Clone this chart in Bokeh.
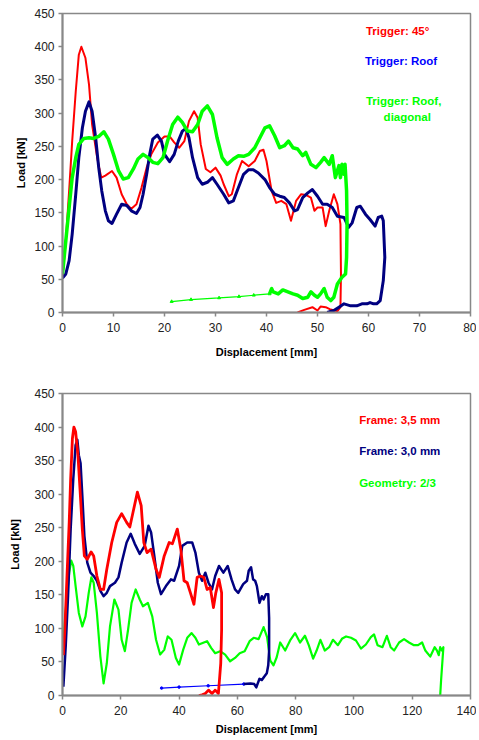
from bokeh.plotting import figure
from bokeh.layouts import column
from bokeh.models import Range1d, FixedTicker, Label
from bokeh.embed import file_html
from bokeh.resources import INLINE

# ---------------- data: top chart (trigger variants) ----------------
t_red = [[0,53],[0.65,108],[1.3,183],[1.9,258],[2.6,333],[3.2,388],[3.7,400],[4.5,383],[5.2,343],[5.8,283],
         [6.8,233],[7.6,203],[8.4,206],[9.7,213],[10.6,203],[11.6,178],[12.6,163],[13.5,156],[14.5,163],[15.5,188],
         [16.5,218],[17.4,238],[18.7,256],[20,265],[21,265],[21.9,256],[22.9,248],[23.9,258],[24.8,288],[25.8,303],
         [26.5,293],[27.1,253],[28.1,216],[29,211],[30,218],[31,206],[31.6,193],[32.6,175],[33.2,178],[34.2,208],
         [35.2,228],[36.5,220],[37.7,228],[38.7,243],[39.4,245],[40,228],[41,183],[41.9,165],[42.9,168],[43.9,163],
         [44.8,138],[45.8,168],[46.8,178],[47.7,177],[48.7,173],[49.4,153],[50,158],[51,158],[51.6,130],[52.3,153],
         [53.2,178],[53.9,163],[54.5,133],[54.6,58],[54.5,8],[53.9,2],[52.4,5],[51.6,8],[50.6,9],[50,3],[49,8],
         [47.4,4],[46.1,0]]
t_blue = [[0,52],[0.65,58],[1.3,78],[1.9,118],[2.6,178],[3.2,233],[3.9,278],[4.5,303],[5.2,317],[5.8,303],
          [6.5,263],[7.1,218],[7.7,183],[8.4,153],[9,138],[9.7,134],[10.6,148],[11.6,163],[12.6,161],[13.5,153],
          [14.5,149],[15.2,158],[15.8,178],[16.5,208],[17.1,238],[17.7,261],[18.6,267],[19.4,258],[20,238],[21,227],
          [21.9,238],[22.7,258],[23.5,273],[24.2,277],[24.8,263],[25.5,233],[26.5,203],[27.4,193],[28.4,196],[29.4,203],
          [30.3,193],[31.6,178],[32.6,165],[33.5,168],[34.5,188],[35.5,208],[36.5,215],[37.4,215],[38.4,210],[39.7,200],
          [40.6,188],[41.6,178],[42.6,175],[43.5,173],[44.5,165],[45.5,153],[46.1,155],[47.1,173],[48.1,180],[49,185],
          [50,175],[51,163],[51.9,163],[52.9,158],[53.9,145],[55.2,143],[56.1,128],[56.8,135],[57.7,158],[58.4,160],
          [59.4,148],[60.3,140],[61.3,130],[61.9,143],[62.6,145],[62.9,138],[63.2,83],[62.9,48],[62.3,18],[61.6,13],
          [61,13],[60.3,15],[59.7,13],[58.7,13],[57.7,10],[56.5,10],[55.2,13],[54.2,8],[53.2,3],[51.9,0]]
t_green = [[0,58],[0.65,108],[1.3,158],[1.9,203],[2.6,233],[3.2,253],[4.2,262],[5.2,263],[6.1,262],[7.1,265],
           [8.1,272],[9,261],[10,238],[11,213],[11.9,201],[12.9,203],[13.9,216],[14.8,231],[15.8,238],[16.8,233],
           [17.7,226],[18.7,224],[19.7,233],[20.6,258],[21.6,283],[22.6,294],[23.5,286],[24.5,273],[25.5,272],[26.5,283],
           [27.4,303],[28.4,311],[29.4,298],[30.3,263],[31.3,233],[32.3,223],[33.5,231],[34.5,236],[35.5,235],[36.5,238],
           [37.7,248],[38.7,263],[39.7,278],[40.6,281],[41.6,266],[42.6,248],[43.5,251],[44.3,258],[45.2,248],[46.1,246],
           [47.1,236],[47.7,241],[48.7,223],[49.7,218],[50.6,226],[51.3,233],[52.3,223],[52.9,236],[53.5,203],[54.2,221],
           [54.5,203],[54.8,223],[55.2,208],[55.4,223],[55.7,183],[55.8,133],[55.7,83],[55.5,58],[54.8,53],[53.9,43],
           [53.2,23],[52.6,18],[51.9,23],[51.3,36],[50.6,28],[50,23],[49.4,26],[48.7,31],[48.1,23],[47.1,21],
           [46.1,26],[45.2,28],[44.2,31],[43.2,34],[42.3,28],[41.3,31],[41,36],[40.6,28]]
t_green_tail = [[40.6,28],[37.5,26],[34.6,24],[30.7,22],[25.2,19.5],[21.4,16.5]]
t_labels = ["Trigger: 45°", "Trigger: Roof", "Trigger: Roof,", "diagonal"]

# ---------------- data: bottom chart (frame variants) ----------------
b_red = [[0.3,60],[0.8,98],[1.5,173],[2.3,258],[2.8,323],[3.4,383],[3.9,400],[4.5,393],[5.3,358],[6,308],
         [6.8,248],[7.5,208],[8.5,203],[9.8,214],[10.7,208],[11.8,178],[13,158],[14.1,158],[15.2,188],[16.9,228],
         [18.6,258],[20.3,271],[22,258],[23.1,251],[24.2,273],[25.7,303],[27,283],[27.9,228],[29,213],[30.4,218],
         [32.1,188],[33.2,176],[34.9,208],[36.6,228],[37.7,226],[39.4,248],[40.6,218],[41.7,171],[42.8,168],[43.9,153],
         [45.1,136],[46.2,176],[47.3,178],[48.5,176],[49.6,158],[50.7,161],[51.8,131],[52.6,153],[53.7,173],[54.6,153],
         [54.6,98],[54.3,48],[53.5,3],[52.4,8],[51.3,3],[50.1,8],[49,3],[47.9,1],[46.8,0]]
b_blue = [[0.3,13],[1.1,73],[1.9,148],[2.8,248],[3.7,323],[4.5,373],[5.1,381],[5.6,358],[6.2,346],[6.8,298],
          [7.5,238],[8.5,198],[9.6,183],[10.7,178],[11.8,171],[13,156],[14.1,148],[15.2,153],[16.3,163],[18,168],
          [19.2,176],[20.3,198],[22,228],[23.4,241],[24.8,226],[26.5,211],[28.2,223],[29.5,253],[30.4,243],[31.5,208],
          [32.7,168],[33.8,151],[35.5,163],[37.2,173],[38.3,171],[40,193],[41.1,223],[42.8,228],[44.5,228],[45.6,213],
          [46.8,183],[47.9,171],[49,183],[50.1,168],[51.3,158],[52.4,178],[53.7,193],[55.2,183],[56.7,193],[58,173],
          [59.2,158],[60.3,153],[62,166],[63.3,171],[63.9,186],[64.7,191],[65.4,173],[66.1,171],[66.7,163],[67.6,138],
          [68.4,148],[69,143],[69.8,151],[70.6,151],[70.9,115],[70.9,67],[70.6,45],[70.1,33],[69.2,28],[68.4,23],
          [67.6,25],[67,18],[66.5,12],[65.8,17],[64.5,18],[62.2,17]]
b_blue_tail = [[62.2,17],[50,14.5],[40,12.5],[34,11]]
b_green = [[0.2,70],[0.6,98],[1.5,148],[2.3,183],[3,201],[3.7,193],[4.5,163],[5.6,123],[6.8,103],[7.9,118],
           [9,153],[9.9,176],[10.7,168],[11.8,123],[13,58],[14.1,18],[15.2,48],[16.3,103],[17.8,143],[19.2,128],
           [20.3,83],[21.4,66],[22.5,98],[23.7,138],[25.1,158],[26.5,143],[27.6,133],[29.3,138],[30.8,118],[32.1,83],
           [33.5,61],[34.9,68],[36.1,88],[37.4,83],[38.9,56],[40,46],[41.4,68],[42.8,86],[44.3,93],[45.6,86],
           [46.8,76],[48.5,79],[49.6,81],[51,71],[52.4,63],[54.1,66],[55.8,61],[57.5,51],[59.2,56],[60.8,63],
           [62.5,66],[64.2,81],[65.6,86],[67.3,84],[69,102],[70.2,87],[71.3,52],[72.4,45],[73.5,57],[74.7,79],
           [76.4,67],[78.1,82],[79.8,93],[81.5,79],[83.2,89],[84.5,75],[86,55],[87.2,67],[88.5,83],[90,67],
           [91.5,72],[92.8,83],[94.5,75],[96,85],[97.3,88],[99,86],[100.7,82],[102.4,70],[104.1,76],[105.8,87],
           [106.9,91],[108.1,75],[109.8,72],[111.3,89],[112.6,72],[113.8,67],[115.5,79],[117.2,84],[118.9,79],[120.6,75],
           [122,75],[123.4,79],[124.5,67],[126.2,58],[127.7,72],[128.5,67],[129.1,60],[129.6,72],[130.2,67],[130.7,72],
           [129.9,22],[129.6,0]]
b_labels = ["Frame: 3,5 mm", "Frame: 3,0 mm", "Geometry: 2/3"]

y_ticks = [0, 50, 100, 150, 200, 250, 300, 350, 400, 450]
t_x_ticks = [0, 10, 20, 30, 40, 50, 60, 70, 80]
b_x_ticks = [0, 20, 40, 60, 80, 100, 120, 140]

RED, NAVY, BLUE, GREEN = "#FF0000", "#000080", "#0000FF", "#00FF00"
FONT = "Liberation Sans"


def xs(pts):
    return [p[0] for p in pts]


def ys(pts):
    return [p[1] for p in pts]


def style(p, xticks):
    p.xaxis.ticker = FixedTicker(ticks=xticks)
    p.yaxis.ticker = FixedTicker(ticks=y_ticks)
    p.xgrid.visible = False
    p.ygrid.visible = False
    p.outline_line_color = "#888888"
    p.outline_line_width = 1.5
    for ax in (p.xaxis[0], p.yaxis[0]):
        ax.axis_line_color = "#888888"
        ax.axis_line_width = 2
        ax.major_tick_line_color = "#888888"
        ax.major_tick_line_width = 1.5
        ax.major_tick_out = 4
        ax.major_tick_in = 0
        ax.minor_tick_line_color = None
        ax.major_label_text_font = FONT
        ax.major_label_text_font_size = "12px"
        ax.major_label_text_color = "#222222"
        ax.axis_label_text_font = FONT
        ax.axis_label_text_font_size = "11px"
        ax.axis_label_text_font_style = "bold"
        ax.axis_label_text_color = "#000000"
    p.xaxis.axis_label = "Displacement [mm]"
    p.yaxis.axis_label = "Load [kN]"
    p.xaxis.major_label_standoff = 6
    p.yaxis.major_label_standoff = 4


def label(p, txt, x, y, col, align):
    p.add_layout(Label(x=x, y=y, text=txt, text_color=col, text_font=FONT, text_font_style="bold",
                       text_font_size="11.5px", text_align=align, text_baseline="middle"))


# ---------------- top figure ----------------
p1 = figure(width=476, height=365, output_backend="svg", toolbar_location=None,
            x_range=Range1d(0, 80), y_range=Range1d(0, 450),
            min_border_left=62, min_border_right=3, min_border_top=13, min_border_bottom=53)
style(p1, t_x_ticks)
p1.xaxis.axis_label_standoff = 11
p1.yaxis.axis_label_standoff = 4

p1.line(xs(t_green_tail), ys(t_green_tail), line_color=GREEN, line_width=1.2)
p1.scatter(xs(t_green_tail), ys(t_green_tail), marker="triangle", size=3, color=GREEN)
p1.line(xs(t_red), ys(t_red), line_color=RED, line_width=2, line_join="round")
p1.line(xs(t_blue), ys(t_blue), line_color=NAVY, line_width=3, line_join="round")
p1.line(xs(t_green), ys(t_green), line_color=GREEN, line_width=3.5, line_join="round")

label(p1, t_labels[0], 59.5, 424, RED, "left")
label(p1, t_labels[1], 59.3, 378, BLUE, "left")
label(p1, t_labels[2], 59.5, 318, GREEN, "left")
label(p1, t_labels[3], 67.6, 294, GREEN, "center")

# ---------------- bottom figure ----------------
p2 = figure(width=476, height=374, output_backend="svg", toolbar_location=None,
            x_range=Range1d(0, 140), y_range=Range1d(0, 450),
            min_border_left=56, min_border_right=6, min_border_top=28, min_border_bottom=44)
style(p2, b_x_ticks)
p2.xaxis.axis_label_standoff = 5
p2.yaxis.axis_label_standoff = 10

p2.line(xs(b_blue_tail), ys(b_blue_tail), line_color=BLUE, line_width=1.2)
p2.scatter(xs(b_blue_tail), ys(b_blue_tail), marker="circle", size=2.5, color=BLUE)
p2.line(xs(b_green), ys(b_green), line_color=GREEN, line_width=2.2, line_join="round")
p2.line(xs(b_blue), ys(b_blue), line_color=NAVY, line_width=2.5, line_join="round")
p2.line(xs(b_red), ys(b_red), line_color=RED, line_width=2.8, line_join="round")

label(p2, b_labels[0], 101.8, 411, RED, "left")
label(p2, b_labels[1], 101.8, 364, NAVY, "left")
label(p2, b_labels[2], 101.8, 317, GREEN, "left")

layout = column(p1, p2, spacing=0)
open("out.html", "w").write(file_html(layout, INLINE))
